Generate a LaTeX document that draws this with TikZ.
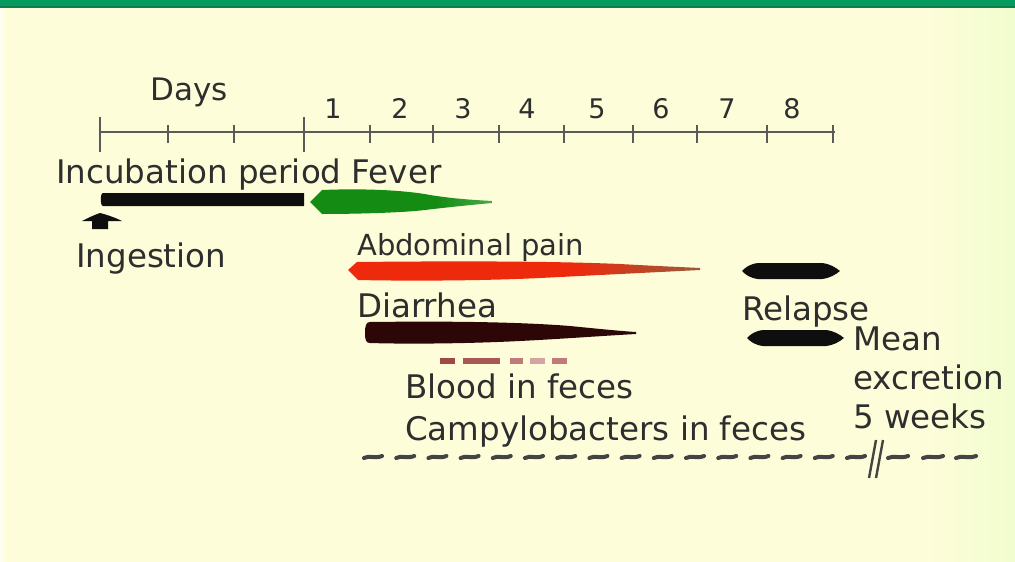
\documentclass[tikz,border=0pt]{standalone}
\usepackage{fontspec}
\setmainfont{DejaVu Sans}
\definecolor{bgcream}{HTML}{FDFDD9}
\definecolor{topgreen}{HTML}{079A5F}
\definecolor{topdark}{HTML}{0B7E52}
\definecolor{txt}{HTML}{2E2E2E}
\definecolor{axisc}{HTML}{5A5A5A}
\definecolor{abred}{HTML}{EE2A0C}
\definecolor{abbrown}{HTML}{9A5A3A}
\definecolor{fevg}{HTML}{148C14}
\definecolor{fevgl}{HTML}{4AA84A}
\definecolor{diar}{HTML}{2D0707}
\definecolor{blk}{HTML}{0E0E0E}
\definecolor{tildec}{HTML}{444444}
\definecolor{bloodA}{HTML}{9E4848}
\definecolor{bloodB}{HTML}{A85656}
\definecolor{bloodC}{HTML}{C07A7A}
\definecolor{bloodD}{HTML}{D3A4A4}
\pgfdeclarehorizontalshading{redtail}{100bp}{color(0bp)=(abred); color(25bp)=(abred); color(57bp)=(abred); color(75bp)=(abbrown); color(100bp)=(abbrown)}
\pgfdeclarehorizontalshading{greentail}{100bp}{color(0bp)=(fevg); color(25bp)=(fevg); color(60bp)=(fevg); color(75bp)=(fevgl); color(100bp)=(fevgl)}
\tikzset{
  lbl/.style={anchor=base west, inner sep=0pt, text=txt, font=\fontsize{32.5}{39}\selectfont},
  smalllbl/.style={anchor=base west, inner sep=0pt, text=txt, font=\fontsize{29}{35}\selectfont},
  dayslbl/.style={anchor=base west, inner sep=0pt, text=txt, font=\fontsize{31}{37}\selectfont},
  digit/.style={anchor=base, inner sep=0pt, text=txt, font=\fontsize{27}{32}\selectfont},
  axisline/.style={draw=axisc, line width=2pt},
  tickline/.style={draw=axisc, line width=2.2pt},
  tildestroke/.style={draw=tildec, line width=4pt, line cap=round},
}
\begin{document}
\begin{tikzpicture}[x=1pt,y=-1pt]
\useasboundingbox (0,0) rectangle (1015,562);
% background
\fill[bgcream] (0,0) rectangle (1015,562);
\fill[white!60!bgcream] (0,0) rectangle (4,562);
\shade[left color=bgcream, right color=green!5!bgcream] (930,7) rectangle (1015,562);
\fill[topgreen] (0,0) rectangle (1015,7);
\fill[topdark] (0,6) rectangle (1015,7.5);

% axis
\draw[axisline] (100,132) -- (835,132);
\foreach \x in {100,304} \draw[tickline] (\x,117) -- (\x,152);
\foreach \x in {168,234,370,433,499,564,633,697,767,833} \draw[tickline] (\x,125) -- (\x,143);

\node[dayslbl] (days) at (150,100) {Days};
\node[digit] (d1) at (333,118) {1};
\node[digit] (d2) at (400,118) {2};
\node[digit] (d3) at (463,118) {3};
\node[digit] (d4) at (527,118) {4};
\node[digit] (d5) at (597,118) {5};
\node[digit] (d6) at (661,118) {6};
\node[digit] (d7) at (727,118) {7};
\node[digit] (d8) at (792,118) {8};

% labels
\node[lbl] (incub) at (56,183) {Incubation period Fever};
\node[lbl] (ingest) at (76,267) {Ingestion};
\node[smalllbl] (abdo) at (357,255) {Abdominal pain};
\node[lbl] (diarr) at (357,317) {Diarrhea};
\node[lbl] (relapse) at (742,320) {Relapse};
\node[lbl] (mean) at (853,350) {Mean};
\node[lbl] (excr) at (853,389) {excretion};
\node[lbl] (weeks) at (853,428) {5 weeks};
\node[lbl] (blood) at (405,398) {Blood in feces};
\node[lbl] (campy) at (405,440) {Campylobacters in feces};

% incubation bar
\fill[blk] (103,193) -- (304,193) -- (304,206) -- (103,206) .. controls (100,206) and (100,193) .. (103,193) -- cycle;
% ingestion arrow
\fill[blk] (100,213) .. controls (108,215) and (116,218) .. (122,221) -- (108,221) -- (108,229) -- (92,229) -- (92,221) -- (82,221) .. controls (88,218) and (94,215) .. (100,213) -- cycle;
% fever
\shade[shading=greentail] (310,202) -- (322,190) .. controls (370,188) and (410,191) .. (430,195) .. controls (455,199) and (475,200) .. (492,201) -- (492,203) .. controls (470,205) and (450,207) .. (425,210) .. controls (400,213) and (350,214) .. (322,214) -- cycle;
% abdominal pain
\shade[shading=redtail] (348,270) -- (357,262) .. controls (450,261) and (550,261) .. (620,264) .. controls (655,266) and (680,267) .. (700,268) -- (700,270) .. controls (660,272) and (600,275) .. (540,278) .. controls (480,281) and (400,281) .. (358,280) -- cycle;
% diarrhea
\fill[diar] (365,333) .. controls (365,326) and (366,322) .. (370,322) .. controls (450,321) and (520,322) .. (570,326) .. controls (600,329) and (620,331) .. (636,332) -- (636,334) .. controls (600,336) and (560,339) .. (520,341) .. controls (460,344) and (400,344) .. (370,343) .. controls (366,343) and (365,340) .. (365,333) -- cycle;
% relapse shapes
\fill[blk] (742,271) .. controls (746,267) and (750,264) .. (758,263) -- (822,263) .. controls (830,264) and (835,267) .. (840,271) .. controls (835,275) and (830,278) .. (822,279) -- (758,279) .. controls (750,278) and (746,275) .. (742,271) -- cycle;
\fill[blk] (747,338) .. controls (751,334) and (755,331) .. (763,330) -- (826,330) .. controls (834,331) and (839,334) .. (844,338) .. controls (839,342) and (834,345) .. (826,346) -- (763,346) .. controls (755,345) and (751,342) .. (747,338) -- cycle;
% blood dashes
\fill[bloodA] (440,358) rectangle (455,364);
\fill[bloodB] (463,358) rectangle (500,364);
\fill[bloodC] (510,358) rectangle (523,364);
\fill[bloodD] (530,358) rectangle (545,364);
\fill[bloodC] (552,358) rectangle (567,364);
% tildes
\foreach \i in {0,...,15} {
  \pgfmathsetmacro{\cx}{373+32.2*\i}
  \draw[tildestroke] (\cx-9,458) .. controls (\cx-4,455) and (\cx+2,459) .. (\cx+9,456);
}
\foreach \cx in {898,933,966} {
  \draw[tildestroke] (\cx-10,458) .. controls (\cx-4,455) and (\cx+2,459) .. (\cx+10,456);
}
\draw[draw=tildec, line width=2.4pt] (869,478) -- (876,440);
\draw[draw=tildec, line width=2.4pt] (876,478) -- (883,440);
\end{tikzpicture}
\end{document}
